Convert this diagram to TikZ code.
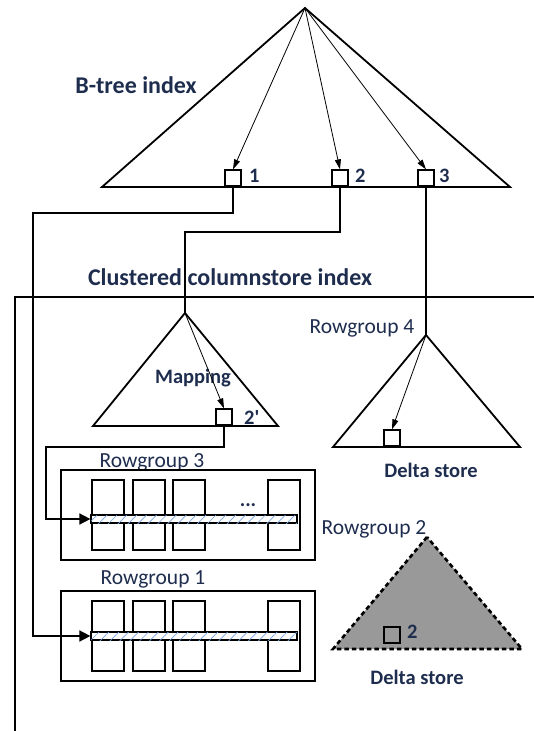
\documentclass[tikz,border=0pt]{standalone}
\usepackage{fontspec}
\setmainfont{Carlito}
\usetikzlibrary{arrows.meta,patterns.meta}
\definecolor{inkblue}{RGB}{30,45,78}
\definecolor{hatchblue}{RGB}{120,165,225}
\tikzset{
  key/.style={draw, line width=1.6pt, minimum size=16pt, inner sep=0pt},
  title/.style={text=inkblue, inner sep=0pt, font=\bfseries\fontsize{24}{24}\selectfont},
  tag/.style={text=inkblue, inner sep=0pt, font=\bfseries\fontsize{20.5}{20.5}\selectfont},
  rg/.style={text=inkblue, inner sep=0pt, font=\fontsize{21.5}{21.5}\selectfont},
  ptr/.style={-{Triangle[length=10pt,width=6pt]}, line width=0.8pt},
  link/.style={line width=1.6pt},
  feed/.style={link, -{Triangle[length=11pt,width=11pt]}},
  tree/.style={line width=1.8pt, line join=miter},
  colbox/.style={draw, line width=1.6pt, minimum width=32pt, minimum height=70pt, inner sep=0pt},
  rowbar/.style={draw, line width=1.2pt, fill=white, minimum width=206pt, minimum height=8pt, inner sep=0pt,
    postaction={pattern={Lines[angle=45,distance=7pt,line width=0.7pt]}, pattern color=hatchblue}},
}
\begin{document}
\begin{tikzpicture}[x=1pt,y=-1pt]
			%%%%% START %%%%%
			\useasboundingbox (0,0) rectangle (534,731);
			
			% B-tree index
			\coordinate (btop) at (305,8);
			\draw[tree] (btop) -- (102,187) -- (510,187) -- cycle;
			\node[key, anchor=south] (k1) at (233,187) {};
			\node[key, anchor=south] (k2) at (340,187) {};
			\node[key, anchor=south] (k3) at (426,187) {};
			\node[tag, anchor=west] (n1) at (249,176) {1};
			\node[tag, anchor=west] (n2) at (355,176) {2};
			\node[tag, anchor=west] (n3) at (439,176) {3};
			\draw[ptr] (btop) -- (k1.north);
			\draw[ptr] (btop) -- (k2.north);
			\draw[ptr] (btop) -- (k3.north);
			\node[title] (bt) at (136,85) {B-tree index};
			
			% clustered columnstore index
			\node[title] (cci) at (230,277) {Clustered columnstore index};
			\draw[link] (534,297) -- (15,297) -- (15,731);
			
			% mapping
			\coordinate (mtop) at (185,313);
			\draw[tree] (mtop) -- (93,426) -- (278,426) -- cycle;
			\node[tag] (map) at (193,378) {Mapping};
			\node[key, anchor=south] (k2p) at (224,426) {};
			\node[tag, anchor=west] (n2p) at (244,417) {2\textquotesingle};
			\draw[ptr] (mtop) -- (k2p.north);
			
			% rowgroup 4, delta store
			\coordinate (rtop) at (426,335);
			\draw[tree] (rtop) -- (333,447) -- (520,447) -- cycle;
			\node[key, anchor=south] (d4) at (392,447) {};
			\draw[ptr] (rtop) -- (d4.north);
			\node[rg] (rg4) at (362,328) {Rowgroup 4};
			\node[tag] (ds4) at (431,470) {Delta store};
			
			% rowgroup 3
			\node[rg] (rg3) at (152,462) {Rowgroup 3};
			\draw[link] (61,470) rectangle (315,560);
			\foreach \x in {108,149,189,284}
				\node[colbox] at (\x,515) {};
			\node[rowbar] (bar3) at (194,519) {};
			\node[tag] (more) at (248,505) {...};
			
			% rowgroup 1
			\node[rg] (rg1) at (153,579) {Rowgroup 1};
			\draw[link] (61,591) rectangle (315,681);
			\foreach \x in {108,149,189,284}
				\node[colbox] at (\x,636) {};
			\node[rowbar] (bar1) at (194,636) {};
			
			% rowgroup 2, delta store
			\node[rg] (rg2) at (374,529) {Rowgroup 2};
			\draw[line width=2.6pt, dash pattern=on 4.5pt off 3pt, fill=black!40] (427,537) -- (333,649) -- (522,649) -- cycle;
			\node[key, anchor=south] (d2) at (392,644) {};
			\node[tag, anchor=west] (nd2) at (407,632) {2};
			\node[tag] (ds2) at (417,677) {Delta store};
			
			% links from the keys
			\draw[link] (k3.south) -- (rtop);
			\draw[link] (k2.south) |- (185,232) -- (mtop);
			\draw[feed] (k1.south) |- (33,213) |- (bar1.west);
			\draw[feed] (k2p.south) |- (46,447) |- (bar3.west);
			
			%%%%% END %%%%%
\end{tikzpicture}
\end{document}
